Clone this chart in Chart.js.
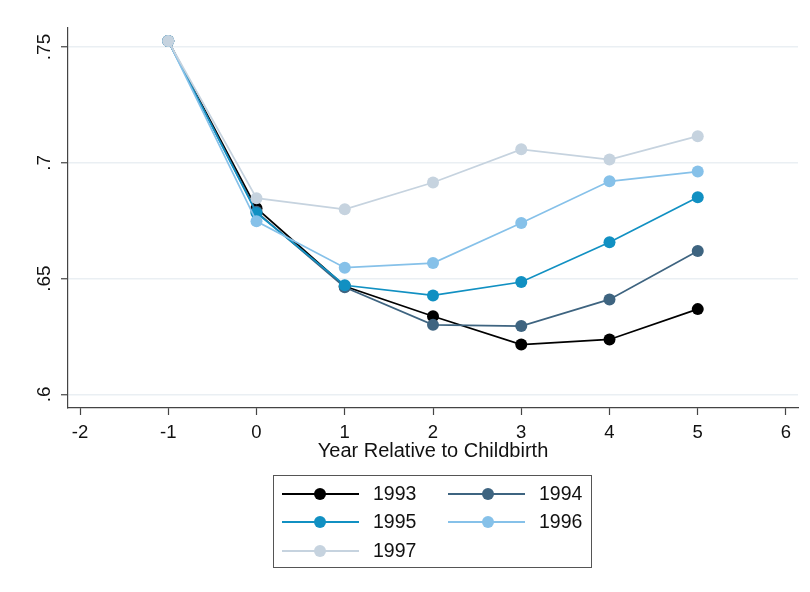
<!DOCTYPE html>
<html>
<head>
<meta charset="utf-8">
<script src="https://cdn.jsdelivr.net/npm/chart.js@4/dist/chart.umd.min.js"></script>
<style>
  html, body { margin: 0; padding: 0; background: #fff; }
  #wrap { position: relative; width: 810px; height: 592px; font-family: "Liberation Sans", Arial, sans-serif; }
  #chart { position: absolute; left: 0; top: 0; }
  #legend { position: absolute; left: 273px; top: 475px; width: 319px; height: 93px;
            border: 1.5px solid #555; box-sizing: border-box; }
  .item { position: absolute; height: 20px; }
  .item .ln { position: absolute; left: 0; top: 9px; width: 77px; height: 2px; }
  .item .dot { position: absolute; top: 4px; width: 12px; height: 12px; border-radius: 50%; }
  .item .tx { position: absolute; top: -2px; font-size: 19.5px; color: #111; white-space: nowrap; }
</style>
</head>
<body>
<div id="wrap">
  <canvas id="chart" width="810" height="592"></canvas>
  <div id="legend"></div>
</div>
<script>
// Years relative to childbirth
const relYear = [-1, 0, 1, 2, 3, 4, 5];

// Cohorts and their series
const cohorts = ['1993', '1994', '1995', '1996', '1997'];
const s1993 = [0.7526, 0.6804, 0.6467, 0.6337, 0.6215, 0.6237, 0.6368];
const s1994 = [0.7526, 0.6788, 0.6462, 0.6300, 0.6295, 0.6410, 0.6619];
const s1995 = [0.7526, 0.6783, 0.6471, 0.6427, 0.6485, 0.6657, 0.6851];
const s1996 = [0.7526, 0.6747, 0.6547, 0.6567, 0.6740, 0.6920, 0.6962];
const s1997 = [0.7526, 0.6847, 0.6799, 0.6915, 0.7058, 0.7014, 0.7115];
const seriesValues = [s1993, s1994, s1995, s1996, s1997];

// Axis ticks
const xTicks = [-2, -1, 0, 1, 2, 3, 4, 5, 6];
const xTickLabels = ['-2', '-1', '0', '1', '2', '3', '4', '5', '6'];
const yTicks = [0.6, 0.65, 0.7, 0.75];
const yTickLabels = ['.6', '.65', '.7', '.75'];

const colors = ['#000000', '#3e6480', '#1190c2', '#86c1e9', '#c6d3df'];
const FONT = '"Liberation Sans", Arial, sans-serif';

const datasets = cohorts.map((name, i) => ({
  label: name,
  data: relYear.map((x, j) => ({ x: x, y: seriesValues[i][j] })),
  borderColor: colors[i],
  backgroundColor: colors[i],
  pointBackgroundColor: colors[i],
  pointBorderWidth: 0,
  pointRadius: 6,
  borderWidth: 1.7,
  tension: 0,
  order: cohorts.length - i
}));

// Rotated y-axis labels
const yLabelPlugin = {
  id: 'yLabels',
  afterDraw(chart) {
    const ctx = chart.ctx;
    const ys = chart.scales.y;
    ctx.save();
    ctx.fillStyle = '#111';
    ctx.font = '19px ' + FONT;
    ctx.textAlign = 'center';
    ctx.textBaseline = 'middle';
    yTicks.forEach((v, i) => {
      ctx.save();
      ctx.translate(45, ys.getPixelForValue(v));
      ctx.rotate(-Math.PI / 2);
      ctx.fillText(yTickLabels[i], 0, 0);
      ctx.restore();
    });
    ctx.restore();
  }
};

new Chart(document.getElementById('chart'), {
  type: 'line',
  data: { datasets: datasets },
  plugins: [yLabelPlugin],
  options: {
    responsive: false,
    animation: false,
    layout: { padding: { top: 28, right: 12, left: 0, bottom: 122 } },
    plugins: { legend: { display: false }, tooltip: { enabled: false } },
    scales: {
      x: {
        type: 'linear',
        min: -2.136,
        max: 6.136,
        afterBuildTicks(scale) { scale.ticks = xTicks.map(v => ({ value: v })); },
        afterFit(scale) { scale.height = 62; },
        ticks: {
          color: '#111',
          font: { family: FONT, size: 18.5 },
          padding: 7,
          maxRotation: 0,
          callback: (v) => xTickLabels[xTicks.indexOf(v)]
        },
        grid: { drawOnChartArea: false, tickLength: 7, tickColor: '#444', tickWidth: 1.2 },
        border: { color: '#444', width: 1.2 },
        title: {
          display: true,
          text: 'Year Relative to Childbirth',
          color: '#111',
          font: { family: FONT, size: 20 },
          padding: { top: 0, bottom: 7 }
        }
      },
      y: {
        type: 'linear',
        min: 0.5941,
        max: 0.7582,
        afterBuildTicks(scale) { scale.ticks = yTicks.map(v => ({ value: v })); },
        afterFit(scale) { scale.width = 68; },
        ticks: { display: false },
        grid: { color: '#eaeff3', lineWidth: 1.5, tickLength: 7, tickColor: '#444', tickWidth: 1.2 },
        border: { color: '#444', width: 1.2 }
      }
    }
  }
});

// Legend box, two columns
const legend = document.getElementById('legend');
const cols = [8, 174];
const rows = [8, 36, 65];
cohorts.forEach((name, i) => {
  const item = document.createElement('div');
  item.className = 'item';
  item.style.left = cols[i % 2] + 'px';
  item.style.top = rows[Math.floor(i / 2)] + 'px';
  item.innerHTML =
    '<div class="ln" style="background:' + colors[i] + '"></div>' +
    '<div class="dot" style="left:' + (i % 2 ? 34 : 32) + 'px;background:' + colors[i] + '"></div>' +
    '<div class="tx" style="left:91px">' + name + '</div>';
  legend.appendChild(item);
});
</script>
</body>
</html>
